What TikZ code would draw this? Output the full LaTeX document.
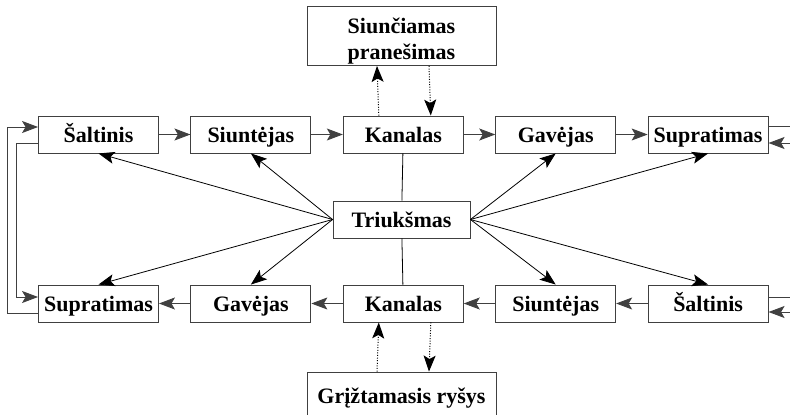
\documentclass[tikz,border=0pt]{standalone}
\usepackage{fontspec}
\setmainfont{Liberation Serif}
\usetikzlibrary{positioning, arrows.meta}

\begin{document}
\begin{tikzpicture}[x=1pt, y=-1pt, >={Stealth[length=16pt,width=12pt,inset=3.5pt]},
    box/.style={draw=black!75, line width=0.9pt, minimum width=120pt, minimum height=37pt,
      inner sep=0pt, text height=16pt, text depth=0pt, font=\fontsize{22}{25}\selectfont\bfseries},
    con/.style={->, draw=black!75, line width=0.9pt},
    noisearrow/.style={->, line width=0.8pt},
    dotarrow/.style={->, dash pattern=on 1pt off 1.6pt, line width=1pt}]
\useasboundingbox (0,0) rectangle (790,415);

% upper row
\node[box] (salt1) at (98.5,134.5) {Šaltinis};
\node[box, right=31.5pt of salt1] (siunt1) {Siuntėjas};
\node[box, right=31.5pt of siunt1] (kan1) {Kanalas};
\node[box, right=31.5pt of kan1] (gav1) {Gavėjas};
\node[box, right=31.5pt of gav1] (supr1) {Supratimas};

% lower row
\node[box] (supr2) at (98.5,303.5) {Supratimas};
\node[box, right=31.5pt of supr2] (gav2) {Gavėjas};
\node[box, right=31.5pt of gav2] (kan2) {Kanalas};
\node[box, right=31.5pt of kan2] (siunt2) {Siuntėjas};
\node[box, right=31.5pt of siunt2] (salt2) {Šaltinis};

\node[box, minimum width=137pt] (noise) at (401.5,219.5) {Triukšmas};
\node[box, minimum width=189pt, minimum height=59pt, text height=46pt, text depth=0pt, align=center] (msg) at (401.5,36) {Siunčiamas\\pranešimas};
\node[box, minimum width=189pt, minimum height=46pt] (fb) at (401.5,395) {Grįžtamasis ryšys};

\foreach \a/\b in {salt1/siunt1, siunt1/kan1, kan1/gav1, gav1/supr1,
                   salt2/siunt2, siunt2/kan2, kan2/gav2, gav2/supr2}
  \draw[con] (\a) -- (\b);

\draw[line width=0.8pt] (kan1) -- (noise) -- (kan2);
\foreach \t in {salt1, siunt1} \draw[noisearrow] (noise.west) -- (\t.south);
\foreach \t in {supr2, gav2} \draw[noisearrow] (noise.west) -- (\t.north);
\foreach \t in {gav1, supr1} \draw[noisearrow] (noise.east) -- (\t.south);
\foreach \t in {siunt2, salt2} \draw[noisearrow] (noise.east) -- (\t.north);

\draw[dotarrow] ([xshift=-24.5pt]kan1.north) -- ([xshift=-24.5pt]msg.south);
\draw[dotarrow] ([xshift=27.5pt]msg.south) -- ([xshift=27.5pt]kan1.north);
\draw[dotarrow] ([xshift=-24.5pt]fb.north) -- ([xshift=-24.5pt]kan2.south);
\draw[dotarrow] ([xshift=27.5pt]kan2.south) -- ([xshift=27.5pt]fb.north);

% feedback loops
\draw[con] ([yshift=-9.5pt]supr2.west) -- ++(-31,0) |- ([yshift=7.5pt]salt1.west);
\draw[con] ([yshift=-8.5pt]salt1.west) -- ++(-21.5,0) |- ([yshift=6.5pt]supr2.west);
\draw[con] ([yshift=8.5pt]supr1.east) -- ++(32,0) |- ([yshift=-8.5pt]salt2.east);
\draw[con] ([yshift=6.5pt]salt2.east) -- ++(22.5,0) |- ([yshift=-8.5pt]supr1.east);
\end{tikzpicture}
\end{document}
